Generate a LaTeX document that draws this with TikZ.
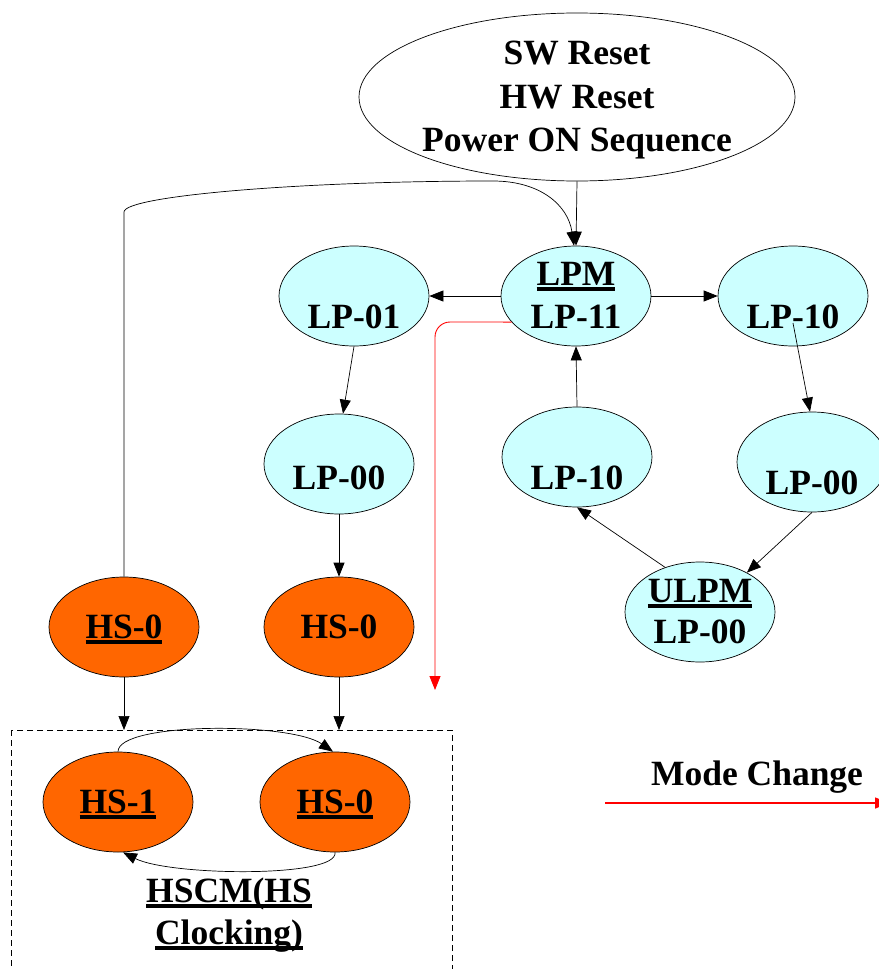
\documentclass[tikz,border=0pt]{standalone}
\usepackage{fontspec}
\setmainfont{Liberation Serif}
\usetikzlibrary{arrows.meta,shapes.geometric,calc}
\definecolor{lpcyan}{HTML}{CCFFFF}
\definecolor{hsorange}{HTML}{FF6600}
\definecolor{modered}{HTML}{FF0000}
\newcommand\myul[1]{\sbox0{#1}\rlap{\rule[-5.5pt]{\wd0}{3.5pt}}\usebox0}
\tikzset{
  lpnode/.style={ellipse,draw=black,line width=0.7pt,fill=lpcyan,minimum width=150pt,minimum height=100pt,inner sep=0pt},
  hsnode/.style={ellipse,draw=black,line width=0.7pt,fill=hsorange,minimum width=150pt,minimum height=100pt,inner sep=0pt},
  topnode/.style={ellipse,draw=black,line width=0.7pt,fill=white,minimum width=436pt,minimum height=168pt,inner sep=0pt},
  txt/.style={font=\bfseries\fontsize{35.5}{43}\selectfont,inner sep=0pt,anchor=base},
  edge/.style={draw=black,line width=0.7pt,-{Triangle[length=14pt,width=11pt]}},
  redge/.style={draw=modered,line width=0.9pt,-{Triangle[length=14pt,width=11pt,fill=modered]}},
}
\begin{document}
\begin{tikzpicture}[x=1pt,y=-1pt]
\useasboundingbox (0,0) rectangle (878,969);
% legend drawn first
\coordinate (legA) at (605,803);
\coordinate (legB) at (889,803);
\draw[redge,line width=1.5pt] (legA) -- (legB);
% top ellipse
\node[topnode] (top) at (577,97) {};
\node[txt] (t1) at ([yshift=33pt]top.center) {SW Reset};
\node[txt] (t2) at ([yshift=-11pt]top.center) {HW Reset};
\node[txt] (t3) at ([yshift=-54pt]top.center) {Power ON Sequence};
% LP nodes
\node[lpnode] (lpm) at (576,296) {};
\node[txt] (lpmA) at ([yshift=11pt]lpm.center) {\myul{LPM}};
\node[txt] (lpmB) at ([yshift=-32pt]lpm.center) {LP-11};
\node[lpnode] (lp01) at (354,296) {};
\node[txt] (lp01t) at ([yshift=-32pt]lp01.center) {LP-01};
\node[lpnode] (lp10r) at (793,296) {};
\node[txt] (lp10rt) at ([yshift=-32pt]lp10r.center) {LP-10};
\node[lpnode] (lp00l) at (339,464) {};
\node[txt] (lp00lt) at ([yshift=-25pt]lp00l.center) {LP-00};
\node[lpnode] (lp10m) at (577,457) {};
\node[txt] (lp10mt) at ([yshift=-32pt]lp10m.center) {LP-10};
\node[lpnode] (lp00r) at (812,462) {};
\node[txt] (lp00rt) at ([yshift=-32pt]lp00r.center) {LP-00};
\node[lpnode] (ulpm) at (700,612) {};
\node[txt] (ulpmA) at ([yshift=10pt]ulpm.center) {\myul{ULPM}};
\node[txt] (ulpmB) at ([yshift=-31pt]ulpm.center) {LP-00};
% HS nodes
\node[hsnode] (hs0a) at (124,627) {};
\node[txt] (hs0at) at ([yshift=-11pt]hs0a.center) {\myul{HS-0}};
\node[hsnode] (hs0m) at (339,627) {};
\node[txt] (hs0mt) at ([yshift=-11pt]hs0m.center) {HS-0};
\node[hsnode] (hs1) at (118,802) {};
\node[txt] (hs1t) at ([yshift=-11pt]hs1.center) {\myul{HS-1}};
\node[hsnode] (hs0b) at (335,802) {};
\node[txt] (hs0bt) at ([yshift=-11pt]hs0b.center) {\myul{HS-0}};
% cluster box
\draw[black,line width=0.7pt,dash pattern=on 6pt off 4pt] (11,730) rectangle (452,980);
\coordinate (boxA) at (124,730);
\coordinate (boxB) at (339,730);
\node[txt] (hscm1) at (229,902) {\myul{HSCM(HS}};
\node[txt] (hscm2) at (229,944) {\myul{Clocking)}};
\node[txt] (mode) at (757,785) {Mode Change};
% edges
\draw[edge] (top.south) -- (lpm.north);
\draw[edge] (hs0a.north) -- (124,212) .. controls (124,196) and (300,181) .. (493,181) .. controls (540,181) and (568,205) .. ([xshift=-2pt]lpm.north);
\draw[edge] (lpm.west) -- (lp01.east);
\draw[edge] (lpm.east) -- (lp10r.west);
\draw[edge] ([shift={(0,27)}]lp10r.center) -- ([xshift=-2pt]lp00r.north);
\draw[edge] (lp01.south) -- ([xshift=4pt]lp00l.north);
\draw[edge] (lp00l.south) -- (hs0m.north);
\draw[edge] (lp10m.north) -- (lpm.south);
\draw[edge] (lp00r.south) -- (ulpm.40);
\draw[edge] (ulpm.128) -- (lp10m.south);
\draw[edge] (hs0a.south) -- (boxA);
\draw[edge] (hs0m.south) -- (boxB);
\draw[edge] (hs1.north) .. controls (118,722) and (290,722) .. ([xshift=-2pt]hs0b.north);
\draw[edge] (hs0b.south) .. controls (339,878) and (170,876) .. ([xshift=5pt]hs1.south);
\draw[redge,rounded corners=15pt] (lpm.202) -- (435,322) -- (435,690);
\end{tikzpicture}
\end{document}
